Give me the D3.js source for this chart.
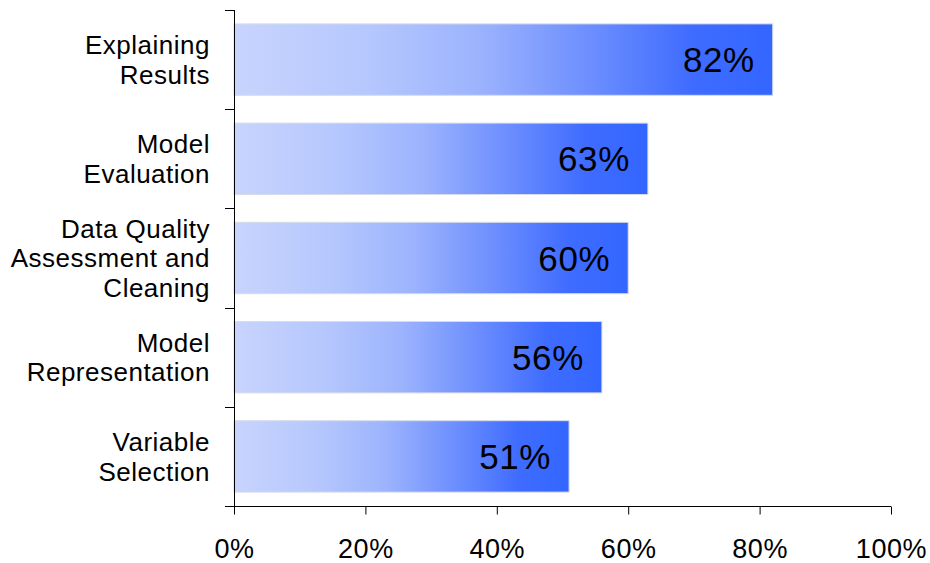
<!DOCTYPE html>
<html>
<head>
<meta charset="utf-8">
<script src="https://cdn.jsdelivr.net/npm/d3@7"></script>
<style>
  html, body { margin: 0; padding: 0; background: #fff; }
  svg { display: block; font-family: "Liberation Sans", Arial, sans-serif; }
</style>
</head>
<body>
<svg id="chart" width="930" height="563"></svg>
<script>
// Share of respondents naming each task
const categories = [
  ["Explaining", "Results"],
  ["Model", "Evaluation"],
  ["Data Quality", "Assessment and", "Cleaning"],
  ["Model", "Representation"],
  ["Variable", "Selection"]
];
const values = [0.82, 0.63, 0.60, 0.56, 0.51];
const tickValues = [0, 0.2, 0.4, 0.6, 0.8, 1.0];

const svg = d3.select("#chart");
const plotLeft = 234, plotRight = 891, plotTop = 10, plotBottom = 506;

const x = d3.scaleLinear().domain([0, 1]).range([plotLeft, plotRight]);
const y = d3.scaleBand().domain(d3.range(categories.length)).range([plotTop, plotBottom]).paddingInner(0.28).paddingOuter(0.14);

// Horizontal light-to-saturated blue fill, applied per bar
const defs = svg.append("defs");
const grad = defs.append("linearGradient").attr("id", "barFill")
  .attr("x1", "0%").attr("x2", "100%").attr("y1", "0%").attr("y2", "0%");
[["0%", "#c8d4fd"], ["25%", "#b5c7fd"], ["45%", "#9db4fd"], ["65%", "#6f90fe"], ["85%", "#3f6cff"], ["100%", "#3366ff"]]
  .forEach(([o, c]) => grad.append("stop").attr("offset", o).attr("stop-color", c));

svg.append("g").selectAll("rect").data(values).join("rect")
  .attr("x", x(0))
  .attr("y", (d, i) => y(i))
  .attr("width", d => x(d) - x(0))
  .attr("height", y.bandwidth())
  .attr("fill", "url(#barFill)")
  .attr("stroke", "#d8dce8")
  .attr("stroke-width", 1);

// Value labels inside the bar end
svg.append("g").selectAll("text").data(values).join("text")
  .attr("x", d => x(d) - 18)
  .attr("y", (d, i) => y(i) + y.bandwidth() / 2)
  .attr("dy", "0.36em")
  .attr("text-anchor", "end")
  .attr("font-size", 35)
  .attr("letter-spacing", 0.6)
  .attr("fill", "#000")
  .text(d => d3.format(".0%")(d));

// Category axis: line with tick marks at band boundaries
const yAxis = svg.append("g").attr("stroke", "#000").attr("stroke-width", 1);
yAxis.append("line").attr("x1", plotLeft + 0.5).attr("x2", plotLeft + 0.5).attr("y1", plotTop).attr("y2", plotBottom);
const bandEdges = d3.range(categories.length + 1).map(i => plotTop + i * (plotBottom - plotTop) / categories.length);
yAxis.selectAll("line.tick").data(bandEdges).join("line").attr("class", "tick")
  .attr("x1", plotLeft - 9).attr("x2", plotLeft + 0.5)
  .attr("y1", d => Math.round(d) + 0.5).attr("y2", d => Math.round(d) + 0.5);

// Category labels, multi-line, right-aligned
const lineH = 29.5;
const catG = svg.append("g").attr("font-size", 26).attr("letter-spacing", 0.5).attr("text-anchor", "end").attr("fill", "#000");
categories.forEach((lines, i) => {
  const cy = y(i) + y.bandwidth() / 2;
  const t = catG.append("text").attr("y", cy - (lines.length - 1) * lineH / 2);
  lines.forEach((ln, j) => {
    t.append("tspan").attr("x", 210).attr("dy", j === 0 ? "0.36em" : lineH).text(ln);
  });
});

// Percentage axis along the bottom
const xAxis = d3.axisBottom(x).tickValues(tickValues).tickFormat(d3.format(".0%")).tickSize(8).tickPadding(24);
const xg = svg.append("g").attr("transform", `translate(0,${plotBottom + 0.5})`).call(xAxis);
xg.select(".domain").attr("stroke", "#000").attr("d", `M${plotLeft},0H${plotRight}`);
xg.selectAll(".tick line").attr("stroke", "#000");
xg.selectAll(".tick text").attr("font-size", 27).attr("letter-spacing", 0.6).attr("fill", "#000").attr("font-family", "Liberation Sans, Arial, sans-serif");
</script>
</body>
</html>
